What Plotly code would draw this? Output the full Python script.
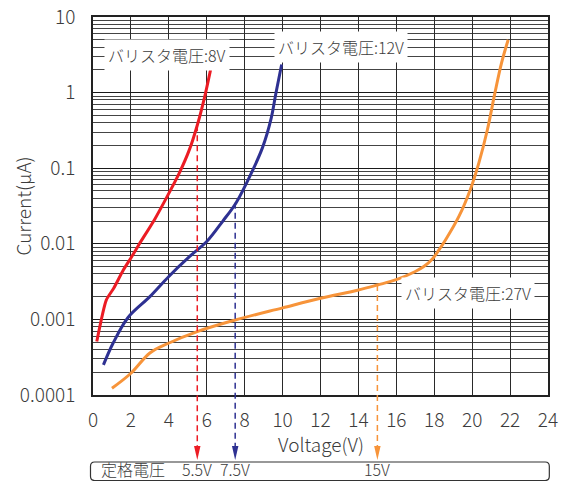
import math
import plotly.graph_objects as go

# ---- data ----
red_v = [0.2, 0.7, 1.1, 1.6, 2.0, 2.45, 3.25, 3.95, 4.55, 5.1, 5.5, 5.9, 6.2]
red_i = [5.1e-4, 1.8e-3, 2.6e-3, 4.5e-3, 6.5e-3, 1.0e-2, 2.1e-2, 4.4e-2, 8.6e-2, 0.18, 0.37, 0.9, 2.0]

blue_v = [0.55, 1.05, 1.85, 3.0, 4.0, 5.1, 6.0, 6.85, 7.55, 8.35, 8.95, 9.4, 9.65, 9.95]
blue_i = [2.5e-4, 4.8e-4, 1.06e-3, 2.0e-3, 3.7e-3, 6.8e-3, 1.07e-2, 2.0e-2, 3.5e-2, 8.6e-2, 0.19, 0.46, 0.99, 2.35]

orange_v = [1.0, 2.0, 3.0, 3.95, 5.5, 7.5, 10.0, 12.0, 14.0, 15.0, 16.0, 17.0, 17.45, 17.9, 18.25,
            18.6, 19.3, 19.9, 20.35, 20.8, 21.2, 21.55, 21.9]
orange_i = [1.23e-4, 1.94e-4, 3.6e-4, 4.8e-4, 6.9e-4, 9.8e-4, 1.42e-3, 1.9e-3, 2.45e-3, 2.85e-3,
            3.35e-3, 4.3e-3, 5.0e-3, 6.3e-3, 8.3e-3, 1.13e-2, 2.3e-2, 5.2e-2, 0.117, 0.32, 0.99, 2.47, 5.0]

series_names = ["バリスタ電圧:8V", "バリスタ電圧:12V", "バリスタ電圧:27V"]
series_colors = ["#ec1c24", "#2e3192", "#f7943a"]
series_smooth = [0.6, 1.0, 1.0]
label_v = [3.9, 13.1, 19.8]
label_i = [3.1, 4.07, 0.00224]

rated_v = [5.5, 7.5, 15.0]
rated_i = [0.37, 0.035, 0.00285]
rated_text = ["5.5V", "7.5V", "15V"]
rated_title = "定格電圧"

x_ticks = list(range(0, 25, 2))
y_ticks = [1e-4, 1e-3, 1e-2, 1e-1, 1, 10]
y_ticktext = ["0.0001", "0.001", "0.01", "0.1", "1", "10"]
y_minor = [m * 10 ** e for e in range(-4, 1) for m in range(2, 10)]

FONT = "Noto Sans CJK JP"
TXT = "#3c3c3c"
W = 300
Y_LO, Y_HI = -4, 1
BOX_TEXT_Y = -0.1958

fig = go.Figure()
for vs, cs, col, sm in [(red_v, red_i, series_colors[0], series_smooth[0]),
                        (blue_v, blue_i, series_colors[1], series_smooth[1]),
                        (orange_v, orange_i, series_colors[2], series_smooth[2])]:
    fig.add_trace(go.Scatter(x=vs, y=cs, mode="lines",
                             line=dict(color=col, width=3, shape="spline", smoothing=sm),
                             showlegend=False, hoverinfo="skip"))

# series labels
for name, v, i in zip(series_names, label_v, label_i):
    fig.add_annotation(x=v, y=math.log10(i), xref="x", yref="y", text=name, showarrow=False,
                       font=dict(family=FONT, size=16, color=TXT, weight=W), bgcolor="white", borderpad=3)

# dashed drop lines to rated voltage box
arrow_tip = -0.172
for v, i, col, t in zip(rated_v, rated_i, series_colors, rated_text):
    y0 = (math.log10(i) - Y_LO) / (Y_HI - Y_LO)
    fig.add_shape(type="line", xref="x", yref="paper", x0=v, x1=v, y0=y0, y1=arrow_tip + 0.03,
                  line=dict(color=col, width=1.5, dash="6px,4px"))
    dx = 0.17
    fig.add_shape(type="path", xref="x", yref="paper",
                  path=f"M {v - dx},{arrow_tip + 0.037} L {v + dx},{arrow_tip + 0.037} L {v},{arrow_tip} Z",
                  fillcolor=col, line=dict(width=0))
    fig.add_annotation(x=v, y=BOX_TEXT_Y, xref="x", yref="paper", yanchor="middle", text=t, showarrow=False,
                       font=dict(family=FONT, size=16, color=TXT, weight=W))

# rated voltage box
bx0, bx1, by0, by1 = -0.0055, 1.0029, -0.1772, -0.2262
rx, ry = 0.009, 0.011
fig.add_shape(type="path", xref="paper", yref="paper",
              path=(f"M {bx0 + rx},{by0} L {bx1 - rx},{by0} Q {bx1},{by0} {bx1},{by0 - ry} "
                    f"L {bx1},{by1 + ry} Q {bx1},{by1} {bx1 - rx},{by1} L {bx0 + rx},{by1} "
                    f"Q {bx0},{by1} {bx0},{by1 + ry} L {bx0},{by0 - ry} Q {bx0},{by0} {bx0 + rx},{by0} Z"),
              line=dict(color="#333333", width=1.2))
fig.add_annotation(x=0.014, y=BOX_TEXT_Y, xref="paper", yref="paper", text=rated_title, showarrow=False,
                   xanchor="left", yanchor="middle", font=dict(family=FONT, size=16, color=TXT, weight=W))

# axis titles
fig.add_annotation(x=0.5, y=-0.127, xref="paper", yref="paper", text="Voltage(V)", showarrow=False,
                   xanchor="center", yanchor="middle", font=dict(family=FONT, size=19, color=TXT, weight=W))
fig.add_annotation(x=-0.157, y=0.5, xref="paper", yref="paper", text="Current(μA)", showarrow=False,
                   textangle=-90, xanchor="center", yanchor="middle",
                   font=dict(family=FONT, size=19, color=TXT, weight=W))

fig.update_layout(
    width=564, height=481,
    margin=dict(l=93, r=16, t=17, b=86),
    paper_bgcolor="white", plot_bgcolor="white",
    font=dict(family=FONT, color=TXT, weight=W),
    xaxis=dict(range=[0, 24], tickvals=x_ticks, showgrid=True, gridcolor="#2a2a2a", gridwidth=1.4,
               zeroline=False, showline=True, linecolor="#222", linewidth=1.5, mirror=True,
               automargin=False,
               ticks="", ticklabelstandoff=7, tickfont=dict(family=FONT, size=19, color=TXT, weight=W)),
    yaxis=dict(type="log", range=[Y_LO, Y_HI], tickvals=y_ticks, ticktext=y_ticktext,
               showgrid=True, gridcolor="#1a1a1a", gridwidth=1.3,
               minor=dict(tickvals=y_minor, showgrid=True, gridcolor="#444", gridwidth=1, ticks=""),
               zeroline=False, showline=True, linecolor="#222", linewidth=1.5, mirror=True,
               automargin=False,
               ticks="", ticklabelstandoff=12, tickfont=dict(family=FONT, size=19, color=TXT, weight=W)),
)

fig.write_html("out.html", config={"displayModeBar": False},
               post_script="document.body.style.margin='0';")
